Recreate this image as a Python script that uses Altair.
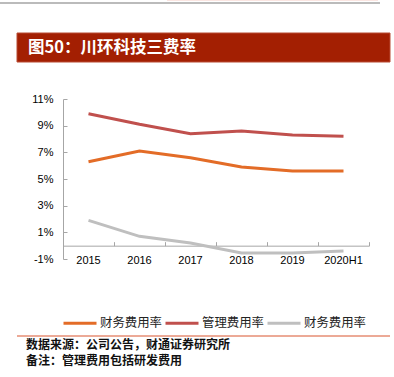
import altair as alt
import pandas as pd

years = ["2015", "2016", "2017", "2018", "2019", "2020H1"]
fin_rate = [6.3, 7.1, 6.6, 5.9, 5.6, 5.6]
mgmt_rate = [9.9, 9.1, 8.4, 8.6, 8.3, 8.2]
fin_rate2 = [1.9, 0.7, 0.2, -0.55, -0.55, -0.4]

series_keys = ["s1", "s2", "s3"]
series_names = ["财务费用率", "管理费用率", "财务费用率"]
series_colors = ["#E36C27", "#C0504D", "#BFBFBF"]
y_ticks = [-1, 1, 3, 5, 7, 9, 11]

title_text = "图50：川环科技三费率"
source_text = "数据来源：公司公告，财通证券研究所"
note_text = "备注：管理费用包括研发费用"

rows = []
for key, vals in zip(series_keys, [fin_rate, mgmt_rate, fin_rate2]):
    for yr, v in zip(years, vals):
        rows.append({"year": yr, "value": v, "series": key})
df = pd.DataFrame(rows)
one = pd.DataFrame({"a": [0]})

W, H = 306, 160
AXIS = "#A6A6A6"
zero_off = H * 1 / 12

label_expr = " : ".join(
    f"datum.value == '{k}' ? '{n}'" for k, n in zip(series_keys, series_names)
) + " : ''"

y_scale = alt.Scale(domain=[-1, 11], nice=False, zero=False)

lines = alt.Chart(df).mark_line(strokeWidth=3).encode(
    x=alt.X("year:N", sort=years,
            scale=alt.Scale(paddingInner=0, paddingOuter=0),
            axis=alt.Axis(title=None, orient="bottom", offset=-zero_off, ticks=False,
                          domainColor=AXIS, labelPadding=9, labelFont="Liberation Sans",
                          labelFontSize=11, labelColor="#000", labelAngle=0, grid=False)),
    y=alt.Y("value:Q", scale=y_scale,
            axis=alt.Axis(title=None, orient="left", values=y_ticks, ticks=False,
                          domainColor=AXIS, labelPadding=10, labelExpr="datum.value + '%'",
                          labelFont="Liberation Sans", labelFontSize=11, labelColor="#000",
                          grid=False)),
    color=alt.Color("series:N", sort=series_keys,
                    scale=alt.Scale(domain=series_keys, range=series_colors),
                    legend=alt.Legend(title=None, orient="none", direction="horizontal",
                                      legendX=-1, legendY=206, symbolType="stroke",
                                      symbolSize=1089, symbolStrokeWidth=3,
                                      labelFont="Noto Sans CJK SC", labelFontSize=12.4,
                                      labelColor="#222", labelOffset=2, columnPadding=-3,
                                      padding=0, labelExpr=label_expr)),
)

ticks_layer = alt.Chart(df).mark_point(opacity=0).encode(
    x=alt.X("year:N", sort=years,
            scale=alt.Scale(paddingInner=0, paddingOuter=0),
            axis=alt.Axis(title=None, orient="top", offset=-(H - zero_off), domain=False,
                          labels=False, ticks=True, tickSize=4, tickColor=AXIS,
                          tickBand="extent", grid=False)),
    y=alt.Y("value:Q", scale=y_scale,
            axis=alt.Axis(title=None, orient="right", offset=-W, domain=False,
                          labels=False, ticks=True, tickSize=4, tickColor=AXIS,
                          values=y_ticks, grid=False)),
)

top_line = alt.Chart(one).mark_rule(color="#BBBBBB", strokeWidth=2).encode(
    x=alt.value(-63), x2=alt.value(317), y=alt.value(-96))
pink = alt.Chart(one).mark_rect(color="#FBE6E2").encode(
    x=alt.value(104), x2=alt.value(315), y=alt.value(-99), y2=alt.value(-98))
title_bar = alt.Chart(one).mark_rect(color="#A31F02", stroke="#B84A33", strokeWidth=1).encode(
    x=alt.value(-46), x2=alt.value(327), y=alt.value(-66), y2=alt.value(-37))
title_txt = alt.Chart(one).mark_text(
    text=title_text, color="white", font="Noto Sans CJK SC", fontWeight="bold",
    fontSize=16.5, align="left", baseline="middle").encode(
    x=alt.value(-35), y=alt.value(-51))
sep = alt.Chart(one).mark_rule(color="#D9552E", strokeWidth=1).encode(
    x=alt.value(-46), x2=alt.value(327), y=alt.value(237))
src = alt.Chart(one).mark_text(
    text=source_text, color="#111", font="Noto Sans CJK SC", fontWeight="bold",
    fontSize=12, align="left", baseline="middle").encode(
    x=alt.value(-37), y=alt.value(246))
note = alt.Chart(one).mark_text(
    text=note_text, color="#111", font="Noto Sans CJK SC", fontWeight="bold",
    fontSize=12, align="left", baseline="middle").encode(
    x=alt.value(-37), y=alt.value(262))

chart = alt.layer(
    lines, ticks_layer, top_line, pink, title_bar, title_txt, sep, src, note
).resolve_axis(x="independent", y="independent").properties(
    width=W, height=H,
    autosize=alt.AutoSizeParams(type="none"),
    padding={"left": 63, "top": 99, "right": 25, "bottom": 118},
    background="white",
).configure_view(stroke=None)

chart.save("out.html", embed_options={"renderer": "svg", "actions": False})
